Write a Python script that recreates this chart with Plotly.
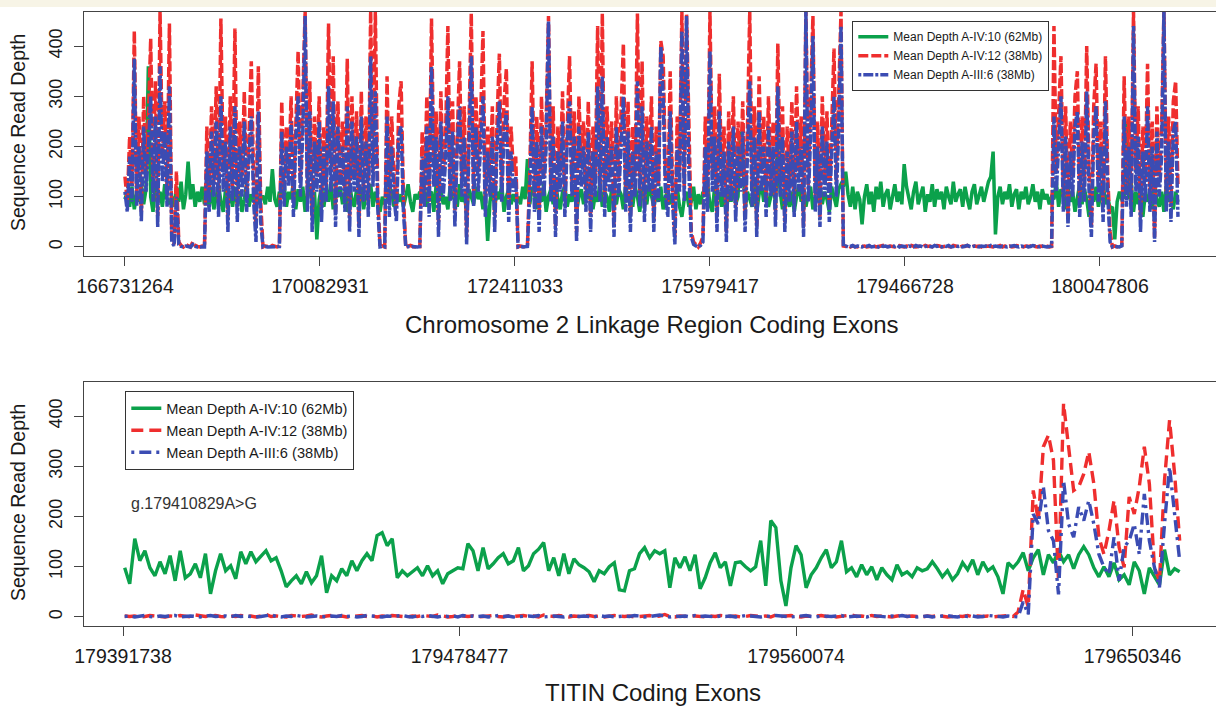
import numpy as np
import plotly.graph_objects as go

W, H = 1216, 706
FONT = "Liberation Sans, Arial, Helvetica, sans-serif"

# ---------------- labels ----------------
series_names = ["Mean Depth A-IV:10 (62Mb)", "Mean Depth A-IV:12 (38Mb)", "Mean Depth A-III:6 (38Mb)"]
top_tick_pos = [0, 1000, 2000, 3000, 4000, 5000]
top_tick_labels = ["166731264", "170082931", "172411033", "175979417", "179466728", "180047806"]
bottom_tick_pos = [0, 100, 200, 300]
bottom_tick_labels = ["179391738", "179478477", "179560074", "179650346"]
y_ticks = [0, 100, 200, 300, 400]
top_x_title = "Chromosome 2 Linkage Region Coding Exons"
bottom_x_title = "TITIN Coding Exons"
y_title = "Sequence Read Depth"
variant_label = "g.179410829A>G"

# exon index spacing of the sampled points
top_step = 12
bottom_step = 1.5

# ---------------- top panel (chromosome 2 linkage region) ----------------
top_green = [
    95, 110, 80, 120, 75, 105, 90, 125, 85, 115, 360, 100, 70, 120, 90, 110, 80, 125, 95, 85,
    100, 80, 120, 90, 130, 75, 105, 170, 95, 125, 80, 110, 90, 120, 85,
    110, 80, 120, 75, 100, 125, 90, 70, 115, 95, 105, 80, 120, 85, 110, 70, 95, 125, 80, 105, 90, 115, 85, 100,
    100, 85, 120, 90, 155, 95, 80, 110,
    100, 125, 80, 110, 95, 130, 75, 115, 90, 120, 70, 105, 125, 85, 110, 15, 95, 120, 80, 115,
    90, 130, 75, 105, 100, 120, 85, 110, 70, 125, 95, 80, 115, 90, 120, 75, 105, 95, 125, 80, 110, 90,
    70, 100, 85,
    95, 120, 110, 80, 115, 90, 105, 80,
    100, 125, 90, 70, 105, 95, 110,
    95, 120, 80, 105, 110, 70, 125, 90, 115, 85, 100, 75, 120, 95, 110, 80, 125, 90, 105, 70,
    115, 100, 85, 120, 95, 110, 75, 105, 12, 90, 120, 80, 110, 95, 125, 70, 100, 115, 85, 105, 90,
    100, 85, 120, 95, 175,
    85, 120, 105, 75, 110, 90, 125, 70, 100, 115, 85, 130, 95, 75, 110, 120, 80, 105, 90, 125,
    70, 100, 115, 85, 110, 95, 120, 75, 105, 90, 130, 80, 110, 100, 70, 120, 95, 85, 115, 105,
    75, 125, 90, 110, 80, 120, 100, 70, 115, 95, 85, 125, 105, 80, 110, 90, 120, 75, 100, 115,
    85, 105, 95, 120, 80,
    60, 95, 110, 80,
    90, 120, 75, 105, 85, 110,
    100, 125, 85, 70, 120, 95, 110, 80, 105, 65, 115, 90, 120, 85, 100, 230, 180, 75, 110, 95,
    80, 120, 70, 105, 125, 90, 115, 80, 100, 130, 85, 195, 110, 75, 120, 95, 80, 110, 70, 100,
    125, 90, 115, 80, 105, 120, 75, 100, 90, 125, 85, 110, 95, 70, 120, 100, 80, 115, 125,
    120, 150, 105, 80, 120, 75, 110, 95, 45, 100, 125, 85, 110, 70, 120, 95, 130, 80, 105, 115,
    75, 100, 125, 90, 110, 85, 165, 120, 95, 75, 110, 130, 85, 100, 120, 70, 105, 90, 125, 80,
    115, 95, 110, 75, 120, 100, 85, 130, 90, 105, 115, 80, 120, 95, 75, 110, 125, 85, 100, 120,
    90, 110, 130, 140, 190, 25, 100, 120, 85, 110, 95, 125, 80, 105, 115, 75, 110, 95, 120, 85,
    100, 125, 90, 110, 75, 115, 95, 105, 85, 100,
    95, 130, 80, 115, 105, 75, 120, 90, 110, 70, 100, 125, 85, 115, 95, 60, 110, 90, 120, 80,
    105, 130, 85, 100, 75,
    80, 15, 90, 110, 95,
    100, 250, 95, 130, 70, 110, 85, 120, 60, 105, 90, 115, 75, 125, 95, 80, 110, 70, 120, 90,
    100, 75, 110, 90,
]
top_red = [
    140, 90, 220, 120, 430, 100, 260, 70, 300, 150, 250, 415, 120, 330, 60, 470, 180, 290, 110, 445,
    20, 5, 150, 10, 3, 0, 5, 2, 0, 10, 3, 1, 0, 2, 1,
    240, 100, 280, 130, 320, 90, 455, 150, 260, 60, 300, 120, 435, 80, 250, 140, 310, 100, 220, 370,
    130, 40, 360, 90,
    0, 2, 1, 0, 3, 1, 0, 2,
    290, 110, 240, 150, 300, 90, 260, 390, 130, 280, 470, 100, 330, 60, 260, 140, 300, 80, 240, 120,
    445, 150, 380, 70, 290, 130, 250, 100, 375, 60, 300, 140, 270, 40, 310, 120, 260, 90, 470, 150,
    470, 110,
    0, 2, 0,
    340, 90, 260, 140, 80, 280, 330, 100,
    0, 2, 3, 1, 0, 2, 1,
    230, 110, 300, 90, 455, 160, 270, 50, 310, 140, 220, 440, 120, 290, 70, 250, 370, 130, 280, 20,
    240, 465, 110, 300, 150, 260, 430, 90, 240, 130, 280, 60, 250, 385, 120, 290, 355, 80, 240, 150,
    180,
    0, 2, 1, 0, 2,
    150, 370, 100, 260, 60, 300, 140, 250, 460, 120, 280, 40, 240, 150, 310, 90, 260, 380, 130, 270,
    30, 300, 160, 250, 100, 290, 60, 240, 140, 440, 120, 465, 90, 280, 150, 250, 40, 300, 130, 260,
    405, 100, 290, 60, 240, 140, 465, 110, 370, 80, 260, 150, 300, 50, 240, 120, 410, 380, 140, 90,
    350, 120, 20, 260, 150,
    470, 120, 465, 200,
    30, 10, 5, 0, 8, 20,
    260, 100, 470, 150, 280, 60, 345, 130, 240, 30, 270, 120, 300, 80, 250, 140, 290, 60, 230, 470,
    110, 280, 40, 340, 150, 260, 90, 300, 130, 250, 70, 405, 140, 280, 50, 240, 120, 290, 90, 320,
    150, 260, 40, 470, 120, 280, 460, 100, 250, 60, 300, 140, 270, 80, 240, 395, 130, 290, 470,
    2, 1, 3, 0, 2, 1, 0, 3, 1, 2, 0, 1, 3, 2, 0, 1, 2, 3, 0, 1,
    2, 1, 0, 2, 3, 1, 0, 2, 1, 3, 2, 0, 1, 2, 1, 3, 1, 2, 0, 1,
    3, 2, 0, 1, 2, 1, 0, 3, 2, 1, 0, 2, 1, 3, 0, 1, 2, 1, 2, 0,
    3, 1, 2, 1, 0, 2, 1, 3, 0, 2, 1, 2, 0, 1, 3, 2, 1, 0, 2, 1,
    2, 3, 1, 0, 2, 1, 3, 2, 0, 1,
    440, 150, 260, 380, 100, 280, 60, 250, 140, 300, 350, 90, 260, 120, 400, 150, 40, 280, 365, 130,
    250, 80, 380, 140, 30,
    0, 2, 0, 1, 3,
    340, 120, 260, 90, 470, 150, 280, 60, 240, 130, 365, 100, 250, 20, 280, 140, 230, 470, 110, 260,
    80, 290, 330, 120,
]
top_blue = [
    110, 70, 180, 90, 375, 80, 200, 50, 240, 110, 190, 300, 90, 260, 40, 360, 130, 230, 80, 320,
    10, 2, 100, 5, 1, 0, 2, 1, 0, 5, 1, 0, 0, 1, 0,
    190, 70, 230, 100, 250, 60, 300, 110, 210, 30, 240, 90, 280, 50, 200, 100, 250, 70, 180, 260,
    90, 10, 270, 50,
    0, 1, 0, 0, 1, 0, 0, 1,
    230, 80, 200, 120, 250, 60, 210, 300, 100, 230, 460, 70, 270, 30, 210, 110, 250, 50, 200, 90,
    320, 110, 290, 40, 240, 100, 200, 70, 280, 30, 250, 110, 220, 20, 260, 90, 210, 60, 380, 120,
    310, 80,
    0, 1, 0,
    260, 60, 200, 100, 50, 220, 240, 70,
    0, 1, 0, 1, 0, 0, 1,
    180, 80, 240, 60, 360, 120, 220, 20, 250, 100, 170, 300, 90, 230, 40, 200, 280, 100, 220, 5,
    190, 380, 80, 240, 110, 210, 300, 60, 190, 100, 220, 30, 200, 290, 90, 230, 270, 50, 190, 110,
    140,
    0, 1, 0, 0, 1,
    110, 280, 70, 210, 30, 240, 100, 200, 450, 90, 220, 20, 190, 110, 250, 60, 210, 290, 100, 220,
    10, 240, 120, 200, 70, 230, 30, 190, 100, 320, 90, 340, 60, 220, 110, 200, 20, 240, 100, 210,
    300, 70, 230, 30, 190, 100, 330, 80, 280, 50, 210, 110, 240, 30, 190, 90, 400, 300, 100, 60,
    270, 90, 5, 200, 110,
    430, 90, 460, 150,
    20, 5, 2, 0, 3, 10,
    200, 70, 390, 110, 220, 30, 270, 100, 190, 10, 210, 90, 240, 50, 200, 110, 230, 30, 180, 330,
    80, 220, 20, 270, 110, 200, 60, 240, 100, 200, 40, 320, 100, 220, 30, 190, 90, 230, 60, 250,
    110, 200, 20, 470, 90, 220, 420, 70, 200, 40, 240, 100, 210, 50, 190, 300, 100, 230, 440,
    1, 2, 0, 1, 3, 0, 2, 1, 0, 2, 1, 3, 0, 1, 2, 0, 3, 1, 2, 0,
    1, 2, 1, 3, 0, 2, 1, 0, 2, 1, 0, 3, 1, 2, 0, 1, 2, 1, 0, 3,
    1, 2, 0, 2, 1, 3, 0, 1, 2, 1, 2, 0, 1, 3, 1, 0, 2, 1, 0, 2,
    1, 2, 0, 3, 1, 2, 1, 0, 2, 1, 0, 1, 2, 3, 1, 0, 2, 1, 2, 0,
    1, 3, 2, 1, 0, 2, 1, 0, 1, 2,
    260, 110, 200, 300, 70, 220, 40, 190, 100, 240, 270, 60, 210, 90, 310, 110, 20, 220, 280, 90,
    200, 50, 290, 100, 10,
    0, 1, 0, 0, 2,
    260, 80, 200, 60, 440, 110, 220, 30, 190, 90, 280, 70, 200, 10, 230, 100, 180, 470, 70, 210,
    50, 230, 250, 60,
]

# ---------------- bottom panel (TITIN exons) ----------------
bottom_green = [
    98, 66, 156, 112, 132, 98, 82, 110, 86, 122, 72, 132, 78, 86, 106, 78, 126, 46, 92, 126,
    92, 102, 76, 130, 106, 130, 110, 122, 132, 112, 118, 92, 60, 72, 82, 66, 90, 68, 82, 122,
    48, 82, 72, 96, 82, 112, 92, 112, 126, 112, 162, 168, 142, 156, 78, 92, 82, 90,
    98, 82, 102, 82, 92, 66, 86, 92,
    98, 96, 146, 132, 92, 138, 96, 106, 118,
    126, 106, 112, 138, 92, 102, 126, 135,
    148, 92, 118, 82, 126, 86, 116, 104,
    98, 90, 70, 92, 86, 100,
    108, 54, 52, 92, 96, 126, 138, 118,
    132, 126, 132, 58, 118, 98, 120, 92, 124, 56, 78, 108, 128, 98, 110, 62, 108, 110, 100, 92,
    100, 152, 62, 192, 178, 72, 22, 98, 142, 124, 58, 84, 98, 118, 134, 98, 110, 152, 90, 98,
    80, 104, 84, 100, 74, 98, 84, 74, 104, 84, 90, 80, 98, 92, 96, 110, 96, 80, 92, 74,
    86, 108, 94, 114, 84, 110, 92, 100, 80, 46, 108, 98, 110, 128, 92, 118, 134, 84, 124, 108,
    132, 110, 124, 96, 124, 140, 124, 98, 80, 100, 80, 108, 74, 84, 64, 110, 92, 46, 98, 80,
    64, 134, 84, 96, 90,
]
bottom_red = [
    2, 1, 2, 0, 1, 3, 2, 1, 0, 2, 1, 3, 2, 0, 4, 2, 1, 2, 3, 1,
    0, 2, 1, 3, 1, 2, 0, 2, 5, 1, 2, 1, 0, 3, 2, 1, 2, 4, 1, 0,
    2, 3, 1, 2, 0, 1, 2, 3, 1, 2, 0, 2, 1, 3, 2, 1, 0, 2, 1, 3,
    2, 1, 4, 2, 0, 1, 3, 2, 1, 2, 0, 1, 2, 3, 1, 0, 2, 1, 2, 3,
    1, 2, 0, 4, 2, 1, 3, 1, 0, 2, 1, 2, 3, 1, 2, 0, 1, 3, 2, 1,
    2, 0, 1, 2, 3, 1, 2, 5, 1, 0, 2, 1, 3, 2, 1, 0, 2, 1, 3, 2,
    1, 2, 0, 1, 3, 2, 1, 2, 0, 4, 1, 2, 3, 1, 0, 2, 1, 2, 3, 1,
    2, 0, 1, 2, 4, 1, 2, 0, 3, 1, 2, 1, 0, 2, 3, 1, 2, 1, 0, 2,
    1, 3, 2, 0, 1, 2, 1, 3, 0, 2, 1, 2, 0, 1, 2, 3, 1,
    10, 55, 20,
    252, 192, 339, 362, 312, 72, 425, 339, 252, 259, 285, 329, 265, 159, 125,
    172, 232, 139, 99, 239, 205, 259, 339, 265, 99, 72, 272, 392, 285, 152,
]
bottom_blue = [
    1, 2, 0, 1, 3, 1, 0, 2, 1, 2, 3, 0, 1, 2, 1, 0, 2, 3, 1, 1,
    2, 0, 3, 1, 2, 1, 0, 1, 2, 4, 1, 0, 2, 1, 3, 2, 0, 1, 2, 1,
    0, 2, 1, 3, 1, 2, 0, 1, 3, 2, 1, 0, 2, 1, 2, 3, 1, 0, 2, 1,
    3, 1, 0, 2, 1, 2, 0, 3, 1, 2, 1, 2, 0, 1, 3, 1, 2, 0, 1, 2,
    2, 1, 3, 0, 1, 2, 1, 0, 2, 3, 1, 2, 1, 0, 3, 1, 2, 0, 1, 2,
    1, 3, 2, 0, 1, 2, 4, 1, 0, 2, 1, 2, 0, 3, 1, 2, 1, 0, 2, 1,
    2, 0, 1, 3, 2, 1, 0, 2, 1, 3, 2, 1, 0, 1, 2, 3, 1, 0, 2, 1,
    1, 2, 3, 0, 1, 2, 1, 0, 3, 2, 1, 0, 2, 1, 3, 1, 2, 0, 1, 2,
    0, 1, 2, 3, 1, 0, 2, 1, 2, 0, 1, 3, 2, 1, 0, 2, 1,
    0, 30, 5,
    205, 185, 259, 172, 152, 45, 272, 185, 159, 219, 192, 232, 185, 125, 99,
    85, 159, 72, 139, 152, 185, 125, 245, 152, 99, 59, 185, 299, 205, 112,
]

# ---------------- styles ----------------
GREEN = "#0ba14b"
RED = "#ef2e2e"
BLUE = "#3b4cb3"
top_styles = [
    dict(color=GREEN, width=3.5, dash="solid"),
    dict(color=RED, width=3.5, dash="10px,3px"),
    dict(color=BLUE, width=3.5, dash="3px,2px,10px,2px"),
]
bottom_styles = [
    dict(color=GREEN, width=3.4, dash="solid"),
    dict(color=RED, width=3.4, dash="12px,6px"),
    dict(color=BLUE, width=3.4, dash="3px,5px,12px,5px"),
]


def exon_index(values, step, start=0.0):
    return start + step * np.arange(len(values))


fig = go.Figure()
for name, vals, st in zip(series_names, [top_green, top_red, top_blue], top_styles):
    fig.add_trace(go.Scatter(x=exon_index(vals, top_step), y=vals, mode="lines", name=name,
                             line=st, xaxis="x", yaxis="y", legend="legend"))
for name, vals, st in zip(series_names, [bottom_green, bottom_red, bottom_blue], bottom_styles):
    fig.add_trace(go.Scatter(x=exon_index(vals, bottom_step, 0.5), y=vals, mode="lines", name=name,
                             line=st, xaxis="x2", yaxis="y2", legend="legend2"))

AX = "#444444"
common_x = dict(showgrid=False, zeroline=False, showline=True, linecolor=AX, linewidth=1.3,
                mirror=True, ticks="outside", ticklen=9, tickwidth=1.2, tickcolor=AX,
                automargin=False,
                tickfont=dict(family=FONT, size=19.5, color="#1a1a1a"), ticklabelstandoff=3)
common_y = dict(showgrid=False, zeroline=False, showline=True, linecolor=AX, linewidth=1.3,
                mirror=False, ticks="outside", ticklen=9, tickwidth=1.2, tickcolor=AX,
                automargin=False,
                tickvals=y_ticks, ticktext=[str(v) for v in y_ticks], tickangle=-90,
                tickfont=dict(family=FONT, size=18, color="#1a1a1a"), ticklabelstandoff=5,
                range=[-18, 468])

fig.update_layout(
    width=W, height=H, autosize=False,
    margin=dict(l=0, r=0, t=0, b=0, autoexpand=False),
    paper_bgcolor="white", plot_bgcolor="white",
    font=dict(family=FONT, color="#1a1a1a"),
    xaxis=dict(common_x, domain=[84 / W, 1.0], range=[-210, 5595], anchor="y",
               tickvals=top_tick_pos, ticktext=top_tick_labels),
    yaxis=dict(common_y, domain=[1 - 256 / H, 1 - 12 / H], anchor="x"),
    xaxis2=dict(common_x, domain=[84 / W, 1.0], range=[-11.59, 324.8], anchor="y2",
                tickvals=bottom_tick_pos, ticktext=bottom_tick_labels),
    yaxis2=dict(common_y, domain=[1 - 626 / H, 1 - 382 / H], anchor="x2"),
    legend=dict(x=852 / W, y=1 - 21 / H, xanchor="left", yanchor="top",
                bgcolor="white", bordercolor="#333333", borderwidth=1.3,
                font=dict(family=FONT, size=12, color="#1a1a1a"), tracegroupgap=0),
    legend2=dict(x=125 / W, y=1 - 391 / H, xanchor="left", yanchor="top",
                 bgcolor="white", bordercolor="#333333", borderwidth=1.3,
                 font=dict(family=FONT, size=14.6, color="#1a1a1a"), tracegroupgap=0),
    showlegend=True,
    shapes=[dict(type="rect", xref="paper", yref="paper", x0=0, x1=1, y0=1 - 7 / H, y1=1,
                 fillcolor="#f7f4e6", line=dict(width=0), layer="below")],
    annotations=[
        dict(text=y_title, xref="paper", yref="paper", x=18 / W, y=1 - 133 / H, textangle=-90,
             xanchor="center", yanchor="middle",
             showarrow=False, font=dict(family=FONT, size=19.5, color="#1a1a1a")),
        dict(text=y_title, xref="paper", yref="paper", x=18 / W, y=1 - 503 / H, textangle=-90,
             xanchor="center", yanchor="middle",
             showarrow=False, font=dict(family=FONT, size=19.5, color="#1a1a1a")),
        dict(text=top_x_title, xref="paper", yref="paper", x=652 / W, y=1 - 324 / H,
             xanchor="center", yanchor="middle",
             showarrow=False, font=dict(family=FONT, size=24, color="#1a1a1a")),
        dict(text=bottom_x_title, xref="paper", yref="paper", x=653 / W, y=1 - 692 / H,
             xanchor="center", yanchor="middle",
             showarrow=False, font=dict(family=FONT, size=24, color="#1a1a1a")),
        dict(text=variant_label, xref="paper", yref="paper", x=129 / W, y=1 - 504 / H,
             xanchor="left", yanchor="middle", showarrow=False,
             font=dict(family=FONT, size=16, color="#333333")),
    ],
)

fig.write_html("out.html")
